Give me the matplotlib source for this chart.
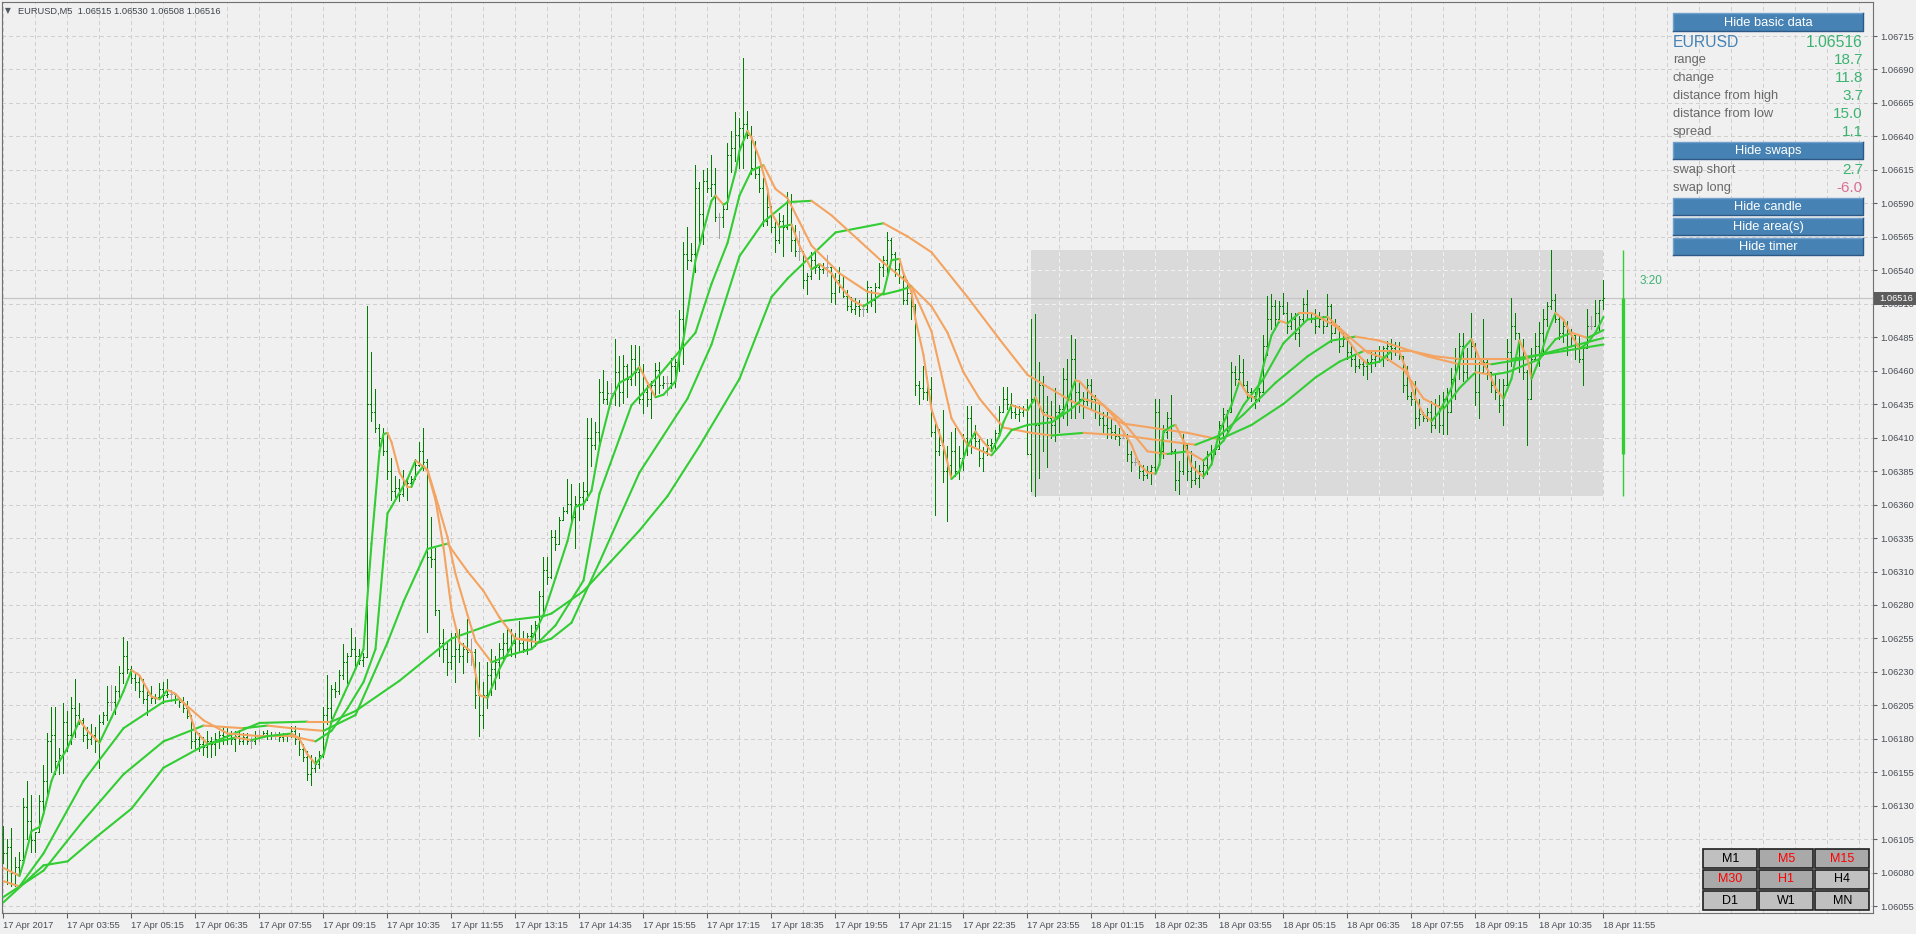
import numpy as np
import matplotlib.pyplot as plt
from matplotlib.patches import Rectangle
from matplotlib.collections import LineCollection

plt.rcParams['font.family'] = ['Liberation Sans', 'DejaVu Sans']

# prices are stored in points (0.00001) above 1.06000
BASE = 1.06

highs = [116, 106, 114, 92, 96, 137, 150, 139, 111, 139,
         162, 186, 206, 206, 175, 209, 203, 214, 227, 209,
         198, 191, 193, 191, 200, 202, 222, 223, 222, 237,
         259, 256, 237, 233, 229, 227, 219, 222, 216, 224,
         225, 227, 219, 216, 214, 214, 211, 200, 188, 186,
         183, 188, 183, 186, 188, 191, 191, 188, 188, 189,
         186, 186, 183, 188, 189, 188, 189, 187, 187, 187,
         186, 186, 192, 192, 186, 178, 173, 170, 168, 173,
         206, 230, 223, 225, 234, 254, 247, 266, 259, 250,
         247, 510, 475, 447, 421, 418, 415, 395, 381, 379,
         386, 379, 381, 394, 407, 418, 394, 350, 327, 280,
         265, 255, 262, 262, 265, 255, 273, 258, 250, 240,
         225, 240, 250, 245, 255, 262, 266, 265, 262, 271,
         264, 262, 268, 271, 294, 320, 320, 340, 340, 350,
         358, 379, 375, 366, 376, 377, 425, 425, 422, 455,
         462, 453, 452, 485, 472, 473, 466, 481, 481, 480,
         466, 450, 453, 467, 468, 457, 457, 471, 470, 507,
         559, 570, 558, 617, 604, 613, 615, 625, 615, 581,
         586, 634, 643, 657, 653, 698, 658, 647, 635, 616,
         607, 597, 586, 574, 581, 579, 597, 595, 572, 567,
         552, 535, 551, 553, 543, 543, 549, 540, 535, 540,
         533, 522, 517, 516, 515, 512, 529, 522, 528, 543,
         548, 566, 562, 551, 543, 535, 530, 521, 512, 453,
         465, 456, 456, 421, 417, 431, 404, 415, 418, 404,
         413, 434, 434, 420, 409, 403, 409, 409, 416, 434,
         449, 449, 444, 435, 434, 434, 440, 500, 504, 468,
         457, 442, 438, 448, 435, 463, 470, 488, 485, 453,
         445, 455, 455, 443, 435, 430, 430, 425, 420, 418,
         415, 413, 400, 395, 393, 390, 389, 390, 440, 440,
         420, 430, 443, 402, 393, 413, 406, 400, 393, 390,
         393, 400, 405, 405, 423, 433, 431, 468, 465, 473,
         470, 453, 448, 445, 448, 488, 518, 519, 515, 514,
         520, 513, 505, 505, 503, 516, 522, 505, 508, 506,
         503, 519, 512, 500, 495, 490, 485, 480, 473, 470,
         470, 470, 476, 476, 480, 480, 484, 485, 483, 483,
         472, 465, 445, 453, 440, 430, 433, 438, 440, 443,
         445, 448, 463, 478, 490, 490, 478, 505, 482, 468,
         500, 470, 460, 458, 455, 455, 485, 516, 505, 490,
         485, 462, 478, 490, 498, 508, 513, 553, 519, 503,
         500, 499, 493, 490, 488, 480, 508, 503, 515, 515,
         530]

lows = [88, 72, 70, 70, 80, 88, 106, 96, 96, 111,
        127, 137, 157, 155, 155, 156, 173, 178, 183, 193,
        180, 175, 178, 172, 160, 193, 196, 204, 201, 214,
        224, 232, 224, 219, 214, 209, 200, 209, 209, 214,
        209, 214, 211, 209, 206, 202, 198, 175, 175, 173,
        170, 168, 168, 170, 175, 178, 178, 178, 173, 178,
        178, 178, 175, 178, 180, 183, 182, 182, 182, 180,
        180, 180, 183, 178, 170, 165, 151, 147, 157, 160,
        168, 193, 198, 214, 216, 227, 224, 245, 237, 239,
        237, 244, 423, 415, 404, 397, 379, 363, 365, 362,
        366, 363, 373, 379, 389, 386, 263, 312, 276, 245,
        240, 230, 235, 225, 240, 232, 240, 238, 205, 184,
        190, 205, 215, 220, 228, 240, 245, 245, 244, 248,
        248, 246, 250, 252, 258, 276, 299, 304, 325, 330,
        348, 353, 348, 327, 348, 356, 363, 389, 402, 405,
        437, 436, 436, 435, 434, 437, 441, 450, 450, 437,
        429, 434, 425, 443, 444, 448, 443, 448, 449, 461,
        466, 538, 544, 536, 557, 557, 597, 594, 575, 562,
        570, 584, 612, 620, 615, 615, 638, 610, 607, 597,
        571, 572, 566, 551, 558, 548, 569, 552, 548, 545,
        524, 519, 531, 535, 531, 535, 533, 513, 512, 521,
        517, 507, 506, 504, 503, 503, 506, 510, 506, 524,
        533, 533, 545, 533, 528, 512, 512, 500, 443, 436,
        440, 439, 412, 352, 397, 377, 347, 379, 381, 379,
        386, 397, 399, 404, 389, 385, 397, 402, 402, 412,
        430, 432, 425, 425, 423, 427, 398, 370, 366, 380,
        400, 388, 410, 408, 415, 425, 420, 425, 425, 430,
        425, 435, 433, 425, 420, 415, 410, 410, 409, 405,
        410, 393, 385, 390, 380, 378, 380, 375, 383, 390,
        395, 410, 398, 371, 368, 383, 378, 373, 375, 373,
        380, 383, 393, 398, 402, 410, 413, 430, 450, 453,
        448, 440, 438, 433, 438, 445, 473, 493, 493, 498,
        504, 490, 493, 485, 480, 498, 500, 498, 490, 494,
        490, 495, 483, 490, 475, 480, 470, 465, 460, 463,
        458, 455, 460, 465, 468, 465, 469, 470, 473, 470,
        445, 440, 435, 418, 420, 423, 423, 415, 418, 415,
        413, 413, 430, 440, 455, 453, 455, 470, 435, 425,
        460, 455, 445, 440, 430, 420, 450, 465, 485, 460,
        455, 405, 440, 470, 465, 473, 495, 508, 498, 485,
        483, 473, 480, 470, 468, 450, 478, 493, 495, 492,
        508]

opens = [110, 95, 100, 80, 85, 90, 130, 120, 105, 111,
         135, 150, 180, 185, 165, 170, 195, 185, 205, 200,
         196, 185, 182, 185, 180, 195, 200, 210, 210, 218,
         232, 245, 235, 228, 225, 218, 212, 215, 213, 214,
         220, 215, 216, 216, 212, 210, 205, 199, 180, 182,
         178, 176, 180, 178, 182, 185, 184, 186, 182, 184,
         180, 183, 180, 180, 185, 185, 186, 184, 185, 185,
         183, 184, 185, 188, 182, 174, 168, 155, 160, 163,
         170, 200, 205, 220, 218, 230, 240, 245, 250, 245,
         242, 244, 436, 430, 418, 410, 400, 385, 370, 372,
         368, 375, 376, 379, 390, 400, 392, 320, 318, 280,
         255, 250, 240, 245, 250, 245, 250, 248, 248, 215,
         200, 215, 230, 235, 240, 250, 255, 250, 255, 258,
         255, 250, 260, 262, 268, 290, 310, 305, 335, 330,
         348, 355, 360, 350, 360, 365, 370, 410, 405, 415,
         445, 440, 444, 444, 460, 445, 465, 455, 470, 460,
         440, 445, 440, 450, 462, 450, 452, 452, 465, 468,
         500, 550, 545, 550, 600, 580, 605, 600, 603, 578,
         578, 584, 625, 630, 640, 645, 648, 640, 615, 610,
         600, 575, 585, 570, 560, 575, 570, 590, 560, 552,
         552, 530, 533, 545, 540, 538, 540, 540, 520, 530,
         525, 518, 510, 508, 510, 508, 508, 525, 515, 525,
         540, 545, 560, 550, 538, 532, 515, 520, 510, 450,
         448, 445, 447, 415, 400, 405, 385, 390, 400, 385,
         395, 410, 425, 410, 408, 395, 400, 405, 406, 414,
         430, 440, 436, 430, 428, 430, 432, 398, 440, 420,
         450, 430, 425, 420, 430, 432, 455, 440, 470, 445,
         440, 438, 450, 440, 430, 425, 420, 418, 415, 412,
         410, 410, 398, 392, 392, 385, 382, 385, 388, 430,
         400, 415, 425, 400, 378, 385, 405, 385, 378, 380,
         385, 390, 398, 400, 402, 420, 428, 430, 460, 455,
         460, 450, 445, 442, 440, 445, 480, 500, 510, 500,
         510, 505, 495, 500, 490, 500, 512, 505, 500, 495,
         500, 495, 510, 490, 495, 480, 485, 475, 470, 465,
         466, 465, 468, 470, 472, 476, 478, 480, 478, 480,
         472, 450, 442, 440, 425, 428, 425, 430, 420, 435,
         420, 440, 430, 455, 470, 480, 460, 470, 480, 445,
         460, 468, 460, 450, 445, 435, 450, 475, 495, 490,
         470, 460, 440, 470, 480, 490, 500, 510, 515, 500,
         490, 495, 480, 488, 478, 470, 478, 495, 495, 505,
         515]

closes = [95, 100, 80, 85, 90, 130, 120, 105, 111, 135,
          150, 180, 185, 165, 170, 195, 185, 205, 200, 196,
          185, 182, 185, 180, 195, 200, 210, 210, 218, 232,
          245, 235, 228, 225, 218, 212, 215, 213, 214, 220,
          215, 216, 216, 212, 210, 205, 199, 180, 182, 178,
          176, 180, 178, 182, 185, 184, 186, 182, 184, 180,
          183, 180, 180, 185, 185, 186, 184, 185, 185, 183,
          184, 185, 188, 182, 174, 168, 155, 160, 163, 170,
          200, 205, 220, 218, 230, 240, 245, 250, 245, 242,
          244, 436, 430, 418, 410, 400, 385, 370, 372, 368,
          375, 376, 379, 390, 400, 392, 320, 318, 280, 255,
          250, 240, 245, 250, 245, 250, 248, 248, 215, 200,
          215, 230, 235, 240, 250, 255, 250, 255, 258, 255,
          250, 260, 262, 268, 290, 310, 305, 335, 330, 348,
          355, 360, 350, 360, 365, 370, 410, 405, 415, 445,
          440, 444, 444, 460, 445, 465, 455, 470, 460, 440,
          445, 440, 450, 462, 450, 452, 452, 465, 468, 500,
          550, 545, 550, 600, 580, 605, 600, 603, 578, 578,
          584, 625, 630, 640, 645, 648, 640, 615, 610, 600,
          575, 585, 570, 560, 575, 570, 590, 560, 552, 552,
          530, 533, 545, 540, 538, 540, 540, 520, 530, 525,
          518, 510, 508, 510, 508, 508, 525, 515, 525, 540,
          545, 560, 550, 538, 532, 515, 520, 510, 450, 448,
          445, 447, 415, 400, 405, 385, 390, 400, 385, 395,
          410, 425, 410, 408, 395, 400, 405, 406, 414, 430,
          440, 436, 430, 428, 430, 432, 398, 440, 420, 450,
          430, 425, 420, 430, 432, 455, 440, 470, 445, 440,
          438, 450, 440, 430, 425, 420, 418, 415, 412, 410,
          410, 398, 392, 392, 385, 382, 385, 388, 430, 400,
          415, 425, 400, 378, 385, 405, 385, 378, 380, 385,
          390, 398, 400, 402, 420, 428, 430, 460, 455, 460,
          450, 445, 442, 440, 445, 480, 500, 510, 500, 510,
          505, 495, 500, 490, 500, 512, 505, 500, 495, 500,
          495, 510, 490, 495, 480, 485, 475, 470, 465, 466,
          465, 468, 470, 472, 476, 478, 480, 478, 480, 472,
          450, 442, 440, 425, 428, 425, 430, 420, 435, 420,
          440, 430, 455, 470, 480, 460, 470, 480, 445, 460,
          468, 460, 450, 445, 435, 450, 475, 495, 490, 470,
          460, 440, 470, 480, 490, 500, 510, 515, 500, 490,
          495, 480, 488, 478, 470, 478, 495, 495, 505, 515,
          516]

# moving averages, read at knots (bar index, points)
ma1_i = [0, 4, 5, 7, 9, 10, 12, 14, 16, 19, 21, 24, 27, 30, 32, 34, 37, 39, 41, 43,
         46, 48, 51, 54, 58, 62, 66, 72, 74, 76, 78, 80, 82, 85, 88, 90, 92, 94, 95, 96,
         97, 99, 101, 102, 103, 105, 106, 108, 110, 112, 114, 117, 119, 121, 124, 128, 132, 135, 138, 141,
         143, 145, 147, 149, 152, 154, 157, 159, 161, 163, 165, 168, 169, 170, 173, 177, 178, 180, 181, 183,
         184, 186, 187, 189, 191, 192, 194, 197, 199, 202, 204, 207, 208, 212, 215, 217, 220, 222, 224, 225,
         227, 228, 230, 232, 235, 237, 239, 241, 243, 245, 247, 249, 250, 252, 254, 256, 258, 260, 263, 265,
         268, 269, 272, 275, 278, 280, 282, 284, 286, 288, 289, 290, 292, 293, 295, 297, 299, 300, 302, 304,
         307, 309, 311, 313, 315, 317, 319, 321, 324, 327, 330, 333, 336, 339, 341, 344, 347, 349, 351, 353,
         355, 357, 359, 362, 365, 367, 369, 371, 373, 375, 377, 379, 381, 382, 384, 386, 388, 390, 392, 394,
         396, 398, 400]
ma1_p = [84, 78, 88, 112, 115, 125, 150, 165, 175, 196, 188, 179, 198, 218, 234, 230, 214, 212, 219, 216,
         206, 188, 178, 180, 183, 181, 184, 186, 182, 170, 163, 170, 195, 215, 235, 250, 330, 400, 413, 414,
         407, 384, 373, 373, 381, 389, 385, 363, 327, 280, 255, 248, 215, 213, 235, 258, 257, 276, 304, 332,
         358, 360, 370, 404, 440, 452, 457, 464, 452, 441, 443, 453, 473, 485, 545, 590, 594, 587, 589, 612,
         628, 643, 638, 622, 599, 581, 570, 572, 556, 538, 542, 535, 530, 515, 510, 514, 520, 545, 546, 535,
         521, 500, 473, 432, 404, 379, 385, 404, 415, 407, 400, 412, 422, 435, 433, 431, 441, 428, 425, 430,
         454, 453, 443, 435, 425, 415, 405, 390, 384, 383, 390, 415, 419, 420, 408, 389, 383, 381, 390, 415,
         435, 453, 443, 440, 465, 488, 499, 497, 505, 505, 500, 495, 485, 472, 466, 468, 476, 475, 460, 440,
         428, 423, 430, 448, 478, 485, 470, 462, 448, 440, 455, 484, 470, 455, 470, 490, 505, 500, 488, 478,
         482, 490, 502]

ma2_i = [0, 4, 10, 20, 30, 40, 44, 50, 56, 64, 72, 78, 82, 86, 90, 93, 96, 97, 101, 103,
         106, 108, 111, 113, 116, 118, 122, 126, 132, 138, 145, 149, 157, 164, 169, 173, 177, 181, 184, 187,
         190, 193, 196, 199, 202, 209, 216, 220, 224, 227, 232, 237, 241, 247, 249, 252, 256, 262, 266, 270,
         275, 280, 286, 291, 296, 300, 305, 310, 315, 320, 326, 331, 336, 341, 346, 350, 355, 360, 364, 368,
         372, 376, 380, 384, 388, 392, 396, 400]
ma2_p = [74, 70, 95, 150, 190, 210, 212, 196, 186, 184, 184, 180, 188, 205, 225, 250, 353, 358, 379, 393,
         386, 366, 335, 307, 276, 256, 240, 245, 250, 268, 302, 368, 435, 458, 476, 490, 527, 558, 594, 613,
         617, 599, 592, 574, 556, 535, 521, 519, 522, 525, 491, 425, 405, 397, 404, 416, 420, 422, 430, 440,
         435, 422, 400, 398, 400, 393, 408, 435, 455, 482, 500, 502, 488, 475, 470, 462, 440, 432, 448, 460,
         458, 460, 465, 470, 485, 490, 486, 492]

ma3_i = [0, 10, 20, 30, 40, 50, 60, 66, 72, 80, 88, 96, 100, 106, 111, 116, 120, 124, 128, 134,
         137, 142, 149, 159, 171, 177, 184, 190, 196, 202, 207, 220, 226, 232, 236, 240, 244, 250, 257, 262,
         270, 280, 290, 298, 304, 310, 318, 326, 332, 338, 344, 350, 356, 364, 372, 380, 390, 400]
ma3_p = [62, 82, 120, 155, 180, 192, 190, 192, 190, 188, 200, 255, 286, 326, 330, 309, 294, 274, 258, 255,
         258, 270, 316, 384, 440, 481, 548, 574, 589, 590, 579, 543, 528, 510, 490, 460, 440, 418, 414, 412,
         414, 412, 408, 405, 412, 428, 452, 472, 484, 487, 484, 478, 472, 466, 466, 470, 478, 486]

ma4_i = [0, 10, 16, 23, 32, 40, 49, 64, 76, 82, 88, 99, 112, 124, 135, 137, 145, 152, 159, 166,
         174, 184, 192, 196, 208, 220, 226, 232, 241, 249, 256, 267, 280, 296, 304, 312, 320, 328, 334, 340,
         352, 358, 364, 377, 390, 400]
ma4_p = [58, 86, 89, 107, 129, 160, 175, 194, 195, 195, 203, 226, 258, 271, 275, 277, 294, 317, 340, 366,
         404, 455, 517, 531, 566, 573, 563, 551, 517, 485, 458, 438, 421, 414, 409, 420, 436, 456, 468, 476,
         476, 472, 470, 470, 476, 481]

time_labels = ["17 Apr 2017", "17 Apr 03:55", "17 Apr 05:15", "17 Apr 06:35", "17 Apr 07:55",
               "17 Apr 09:15", "17 Apr 10:35", "17 Apr 11:55", "17 Apr 13:15", "17 Apr 14:35",
               "17 Apr 15:55", "17 Apr 17:15", "17 Apr 18:35", "17 Apr 19:55", "17 Apr 21:15",
               "17 Apr 22:35", "17 Apr 23:55", "18 Apr 01:15", "18 Apr 02:35", "18 Apr 03:55",
               "18 Apr 05:15", "18 Apr 06:35", "18 Apr 07:55", "18 Apr 09:15", "18 Apr 10:35",
               "18 Apr 11:55"]
price_labels = ["1.06715", "1.06690", "1.06665", "1.06640", "1.06615", "1.06590", "1.06565",
                "1.06540", "1.06510", "1.06485", "1.06460", "1.06435", "1.06410", "1.06385",
                "1.06360", "1.06335", "1.06310", "1.06280", "1.06255", "1.06230", "1.06205",
                "1.06180", "1.06155", "1.06130", "1.06105", "1.06080", "1.06055"]

title = "EURUSD,M5  1.06515 1.06530 1.06508 1.06516"
last_price = 516
day_open, day_high, day_low = 398, 553, 366
day_first_bar = 257
candle_bar = 405

info_labels = ["range", "change", "distance from high", "distance from low", "spread"]
info_values = ["18.7", "11.8", "3.7", "15.0", "1.1"]
swap_labels = ["swap short", "swap long"]
swap_values = ["2.7", "-6.0"]
tf_names = [["M1", "M5", "M15"], ["M30", "H1", "H4"], ["D1", "W1", "MN"]]
tf_active = [[False, True, True], [True, True, False], [False, False, False]]


def P(v):
    return BASE + np.asarray(v, dtype=float) * 1e-5


BG = '#f0f0f0'
GREEN_BAR = '#008000'
DOJI = '#a0a0a0'
MA_UP = '#32cd32'
MA_DN = '#f4a460'
GRID = '#cfcfcf'

fig = plt.figure(figsize=(19.16, 9.34), dpi=100, facecolor=BG)
ax = fig.add_axes([2 / 1916, 21 / 934, 1871 / 1916, 911 / 934])
ax.set_facecolor(BG)
ax.set_xlim(-0.375, 467.375)
ax.set_ylim(P(715 - 877 / 1.3185), P(715 + 34 / 1.3185))

ytick_pts = [715 - 25.385 * k for k in range(len(price_labels))]
xtick_bars = [16 * k for k in range(len(time_labels))]

# grid
vgrid = np.arange(0, 468, 8)
ax.vlines(vgrid, *ax.get_ylim(), colors=GRID, lw=0.72, linestyles=(0, (4, 4)), zorder=1, antialiased=False)
ax.hlines(P(ytick_pts), *ax.get_xlim(), colors=GRID, lw=0.72, linestyles=(0, (4, 4)), zorder=1, antialiased=False)

# today's area
area = Rectangle((day_first_bar, P(day_low)), 400 - day_first_bar, P(day_high) - P(day_low),
                 facecolor='#dadada', edgecolor='none', zorder=1.5)
ax.add_patch(area)
g1 = ax.vlines(vgrid, *ax.get_ylim(), colors='#f2f2f2', lw=0.72, linestyles=(0, (4, 4)), zorder=1.6, antialiased=False)
g2 = ax.hlines(P(ytick_pts), *ax.get_xlim(), colors='#f2f2f2', lw=0.72, linestyles=(0, (4, 4)), zorder=1.6, antialiased=False)
g1.set_clip_path(area)
g2.set_clip_path(area)

# current price line
ax.axhline(P(last_price), color='#c6c6c6', lw=0.9, zorder=2)

# OHLC bars
idx = np.arange(len(highs))
o = np.array(opens)
c = np.array(closes)
cols = np.where(o == c, DOJI, GREEN_BAR)
ax.vlines(idx, P(lows), P(highs), colors=cols, lw=0.72, zorder=3, antialiased=False)
ax.hlines(P(o), idx - 0.25, idx, colors=cols, lw=0.72, zorder=3, antialiased=False)
ax.hlines(P(c), idx, idx + 0.25, colors=cols, lw=0.72, zorder=3, antialiased=False)

# moving averages, green when rising, orange when falling
for mi, mp in [(ma4_i, ma4_p), (ma3_i, ma3_p), (ma2_i, ma2_p), (ma1_i, ma1_p)]:
    xs = np.array(mi, dtype=float)
    ys = P(mp)
    segs = [[(xs[k], ys[k]), (xs[k + 1], ys[k + 1])] for k in range(len(xs) - 1)]
    scol = [MA_UP if ys[k + 1] > ys[k] else MA_DN for k in range(len(xs) - 1)]
    ax.add_collection(LineCollection(segs, colors=scol, linewidths=1.5, zorder=4, capstyle='round'))

# daily candle to the right
ax.vlines(candle_bar, P(day_low), P(day_high), colors=MA_UP, lw=1.0, zorder=4)
ax.vlines(candle_bar, P(day_open), P(last_price), colors=MA_UP, lw=2.4, zorder=4)

# axes, ticks
for s in ax.spines.values():
    s.set_color('#707070')
    s.set_linewidth(0.8)
ax.yaxis.tick_right()
ax.set_yticks(P(ytick_pts))
ax.set_yticklabels(price_labels, fontsize=6.7, color='#474d55')
ax.tick_params(axis='y', length=3, width=0.8, color='#606060', pad=2)
ax.set_xticks(xtick_bars)
ax.set_xticklabels(time_labels, fontsize=6.7, color='#474d55', ha='left')
ax.tick_params(axis='x', length=3.6, width=0.8, color='#606060', pad=2)

# overlay in pixel coordinates for the chart furniture
ov = fig.add_axes([0, 0, 1, 1], zorder=5)
ov.set_xlim(0, 1916)
ov.set_ylim(934, 0)
ov.axis('off')
ov.patch.set_alpha(0)

ov.text(5, 11, '\u25bc', fontsize=5.5, color='#505860', va='center', family='DejaVu Sans')
ov.text(18, 11, title, fontsize=6.7, color='#3c434b', va='center')

# price tag on the axis
ov.add_patch(Rectangle((1874, 292), 42, 13, facecolor='#5c5c5c', edgecolor='none'))
ov.text(1879, 298.5, "1.06516", fontsize=6.7, color='white', va='center')

ov.text(1640, 281, "3:20", fontsize=8.5, color='#3cb371', va='center')


def button(x0, y0, x1, y1, label):
    ov.add_patch(Rectangle((x0, y0), x1 - x0, y1 - y0, facecolor='#4682b4', edgecolor='none'))
    ov.plot([x0, x0, x1], [y1, y0, y0], color='#6f9fcc', lw=1.0)
    ov.plot([x0, x1, x1], [y1, y1, y0], color='#2d5a85', lw=1.0)
    ov.text((x0 + x1) / 2, (y0 + y1) / 2 + 0.5, label, fontsize=9.3, color='white', ha='center', va='center')


PX0, PX1 = 1673, 1863
button(PX0, 13, PX1, 31, "Hide basic data")
ov.text(PX0, 42.5, "EURUSD", fontsize=11.3, color='#4682b4', va='center')
ov.text(PX1, 42.5, "1.06516", fontsize=11.3, color='#3cb371', va='center', ha='right')
for k, (lab, val) in enumerate(zip(info_labels, info_values)):
    yy = 60 + 17.9 * k
    ov.text(PX0, yy, lab, fontsize=9.3, color='#696969', va='center')
    ov.text(PX1, yy, val, fontsize=11, color='#3cb371', va='center', ha='right')
button(PX0, 142, PX1, 159, "Hide swaps")
for k, (lab, val) in enumerate(zip(swap_labels, swap_values)):
    yy = 169.5 + 18.2 * k
    ov.text(PX0, yy, lab, fontsize=9.3, color='#696969', va='center')
    ov.text(PX1, yy, val, fontsize=11, color='#3cb371' if not val.startswith('-') else '#db7093',
            va='center', ha='right')
button(PX0, 197.5, PX1, 214.5, "Hide candle")
button(PX0, 217.5, PX1, 235, "Hide area(s)")
button(PX0, 237.5, PX1, 255, "Hide timer")

# timeframe switcher
col_x = [1703.5, 1759.5, 1815.5]
row_y = [848.5, 869.5, 890.5]
for r in range(3):
    for q in range(3):
        on = tf_active[r][q]
        ov.add_patch(Rectangle((col_x[q], row_y[r]), 54, 19, facecolor='#a9a9a9' if on else '#c0c0c0',
                               edgecolor='#202020', lw=1.2))
        ov.text(col_x[q] + 27, row_y[r] + 10, tf_names[r][q], fontsize=9, ha='center', va='center',
                color='#ff0000' if on else '#000000')

fig.savefig('out.png', dpi=100, facecolor=BG)
